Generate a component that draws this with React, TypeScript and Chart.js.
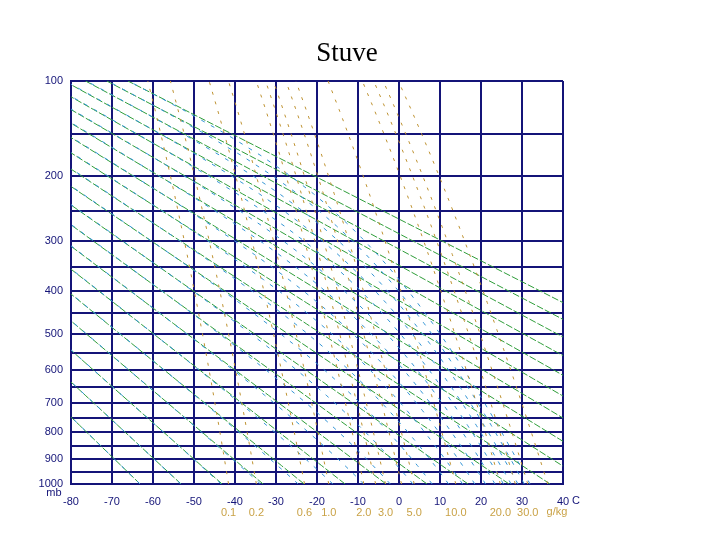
import React, { useEffect, useRef } from 'react';
import { Chart, registerables, LinearScale } from 'chart.js';

// ---- data (diagram definition) ----
const TITLE = 'Stuve';
const TEMP_MIN_C = -80;
const TEMP_MAX_C = 40;
const TEMP_STEP_C = 10;
const PRESSURE_TOP = 100;
const PRESSURE_BOTTOM = 1000;
const PRESSURE_GRID = [100, 150, 200, 250, 300, 350, 400, 450, 500, 550, 600, 650, 700, 750, 800, 850, 900, 950, 1000];
const PRESSURE_LABELS = [100, 200, 300, 400, 500, 600, 700, 800, 900, 1000];
const SAMPLE_PRESSURES = [1000, 975, 950, 925, 900, 875, 850, 825, 800, 775, 750, 725, 700, 675, 650, 625, 600, 575, 550, 525, 500, 475, 450, 425, 400, 375, 350, 325, 300, 275, 250, 225, 200, 175, 150, 125, 100];
const DRY_THETA_K = [210, 220, 230, 240, 250, 260, 270, 280, 290, 300, 310, 320, 330, 340, 350, 360, 370, 380, 390, 400];
const MOIST_THETAE_K = [210, 220, 230, 240, 250, 260, 270, 280, 290, 300, 310, 320, 330, 340, 350, 360, 370, 380, 390, 400];
const MIXING_RATIOS_GKG = [0.1, 0.2, 0.6, 1, 2, 2.5, 3, 4, 5, 10, 20, 25, 30, 40];
const LABELLED_RATIOS_GKG = [0.1, 0.2, 0.6, 1, 2, 3, 5, 10, 20, 30];
const MIXING_LABELS = ['0.1', '0.2', '0.6', '1.0', '2.0', '3.0', '5.0', '10.0', '20.0', '30.0'];

const KAPPA = 0.286;
const NAVY = '#141478';
const GREEN = '#2f9e3a';
const BLUE = '#3596d6';
const ORANGE = '#bf9332';
const LABEL_ORANGE = '#c9a246';

// ---- thermodynamics ----
function satVaporPressure(tc: number) {
  return 6.112 * Math.exp((17.67 * tc) / (tc + 243.5));
}
function dewPointFromMixing(wGkg: number, p: number) {
  const e = (p * wGkg) / (622 + wGkg);
  const l = Math.log(e / 6.112);
  return (243.5 * l) / (17.67 - l);
}
function thetaE(tk: number, p: number) {
  const es = satVaporPressure(tk - 273.15);
  if (es >= 0.5 * p) return Infinity;
  const r = (622 * es) / (p - es);
  return tk * Math.pow(1000 / p, 0.2854 * (1 - 0.00028 * r)) * Math.exp((3.376 / tk - 0.00254) * r * (1 + 0.00081 * r));
}
function moistTemp(te: number, p: number) {
  let lo = 120, hi = 345;
  for (let i = 0; i < 60; i++) {
    const mid = (lo + hi) / 2;
    if (thetaE(mid, p) > te) hi = mid; else lo = mid;
  }
  return (lo + hi) / 2 - 273.15;
}

// ---- Stuve pressure scale (linear in p^kappa) ----
class StuveScale extends LinearScale {
  static id = 'stuve';
  static defaults = LinearScale.defaults;
  _sStart = 0;
  _sRange = 1;
  determineDataLimits() {
    this.min = this.options.min;
    this.max = this.options.max;
  }
  buildTicks() {
    return PRESSURE_GRID.map((v) => ({ value: v }));
  }
  configure() {
    super.configure();
    this._sStart = Math.pow(this.min, KAPPA);
    this._sRange = Math.pow(this.max, KAPPA) - this._sStart;
  }
  getPixelForValue(value: number) {
    return this.getPixelForDecimal((Math.pow(value, KAPPA) - this._sStart) / this._sRange);
  }
  getValueForPixel(pixel: number) {
    return Math.pow(this._sStart + this.getDecimalForPixel(pixel) * this._sRange, 1 / KAPPA);
  }
}

Chart.register(...registerables, StuveScale as any);

const textPlugin = {
  id: 'stuveText',
  beforeDraw(chart: any) {
    const ctx = chart.ctx;
    ctx.save();
    ctx.fillStyle = '#ffffff';
    ctx.fillRect(0, 0, chart.width, chart.height);
    ctx.restore();
  },
  afterDraw(chart: any) {
    const ctx = chart.ctx;
    const x = chart.scales.x;
    const y = chart.scales.y;
    ctx.save();
    ctx.fillStyle = '#000000';
    ctx.font = "27px 'Liberation Serif', serif";
    ctx.textAlign = 'center';
    ctx.textBaseline = 'alphabetic';
    ctx.fillText(TITLE, 347, 61);
    ctx.font = "11px 'Liberation Sans', sans-serif";
    ctx.textBaseline = 'middle';
    ctx.fillStyle = NAVY;
    ctx.fillText('mb', 54, y.getPixelForValue(PRESSURE_BOTTOM) + 9);
    ctx.fillText('C', x.getPixelForValue(TEMP_MAX_C) + 13, 501);
    ctx.fillStyle = LABEL_ORANGE;
    ctx.fillText('g/kg', x.getPixelForValue(TEMP_MAX_C) - 6, 512);
    ctx.restore();
  },
};

export default function App() {
  const ref = useRef<HTMLCanvasElement>(null);
  useEffect(() => {
    document.body.style.margin = '0';
    const canvas = ref.current;
    if (!canvas) return;

    const mixDatasets = MIXING_RATIOS_GKG.map((w) => ({
      data: SAMPLE_PRESSURES.map((p) => ({ x: dewPointFromMixing(w, p), y: p })),
      borderColor: ORANGE,
      borderWidth: 1,
      borderDash: [3, 7],
      pointRadius: 0,
      fill: false,
    }));
    const moistDatasets = MOIST_THETAE_K.map((te) => ({
      data: SAMPLE_PRESSURES.map((p) => ({ x: moistTemp(te, p), y: p })),
      borderColor: BLUE,
      borderWidth: 1,
      borderDash: [4, 7],
      pointRadius: 0,
      fill: false,
    }));
    const dryDatasets = DRY_THETA_K.map((th) => ({
      data: SAMPLE_PRESSURES.map((p) => ({ x: th * Math.pow(p / 1000, KAPPA) - 273.15, y: p })),
      borderColor: GREEN,
      borderWidth: 1,
      borderDash: [7, 2],
      pointRadius: 0,
      fill: false,
    }));

    const mixTickValues = LABELLED_RATIOS_GKG.map((w) => dewPointFromMixing(w, PRESSURE_BOTTOM));

    const chart = new Chart(canvas, {
      type: 'line',
      data: { datasets: [...mixDatasets, ...moistDatasets, ...dryDatasets] as any },
      options: {
        animation: false,
        responsive: false,
        devicePixelRatio: 1,
        events: [],
        layout: { padding: { left: 0, top: 81, right: 157, bottom: 14 } },
        plugins: { legend: { display: false }, tooltip: { enabled: false }, title: { display: false } },
        scales: {
          x: {
            type: 'linear',
            position: 'bottom',
            weight: 0,
            min: TEMP_MIN_C,
            max: TEMP_MAX_C,
            afterFit: (s: any) => { s.height = 22; },
            ticks: {
              stepSize: TEMP_STEP_C,
              autoSkip: false,
              maxRotation: 0,
              padding: 11,
              color: NAVY,
              font: { family: "'Liberation Sans', sans-serif", size: 11 },
              callback: (v: any) => String(v),
            },
            grid: { color: NAVY, lineWidth: 2, drawTicks: false },
            border: { color: NAVY, width: 2 },
          },
          xw: {
            type: 'linear',
            axis: 'x',
            position: 'bottom',
            weight: 1,
            min: TEMP_MIN_C,
            max: TEMP_MAX_C,
            afterFit: (s: any) => { s.height = 20; },
            afterBuildTicks: (s: any) => { s.ticks = mixTickValues.map((v) => ({ value: v })); },
            ticks: {
              autoSkip: false,
              maxRotation: 0,
              padding: 0,
              color: LABEL_ORANGE,
              font: { family: "'Liberation Sans', sans-serif", size: 11 },
              callback: (_v: any, i: number) => MIXING_LABELS[i],
            },
            grid: { display: false, drawTicks: false },
            border: { display: false },
          },
          y: {
            type: 'stuve' as any,
            position: 'left',
            min: PRESSURE_TOP,
            max: PRESSURE_BOTTOM,
            reverse: true,
            afterFit: (s: any) => { s.width = 71; },
            ticks: {
              autoSkip: false,
              padding: 8,
              color: NAVY,
              font: { family: "'Liberation Sans', sans-serif", size: 11 },
              callback: (v: any) => (PRESSURE_LABELS.includes(Number(v)) ? String(v) : ''),
            },
            grid: { color: NAVY, lineWidth: 2, drawTicks: false },
            border: { color: NAVY, width: 2 },
          },
        } as any,
      },
      plugins: [textPlugin],
    });
    return () => chart.destroy();
  }, []);

  return (
    <div style={{ position: 'absolute', left: 0, top: 0, width: 720, height: 540 }}>
      <canvas ref={ref} width={720} height={540} style={{ display: 'block' }} />
    </div>
  );
}
